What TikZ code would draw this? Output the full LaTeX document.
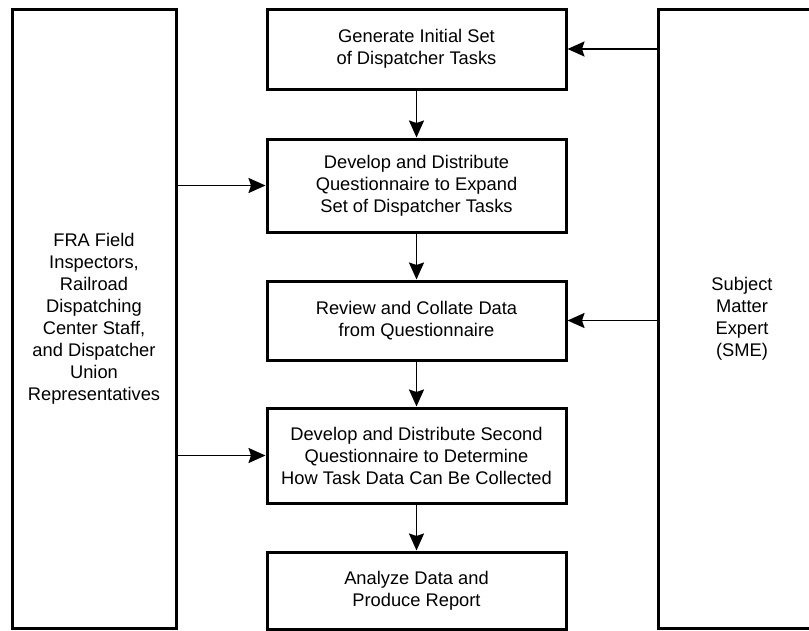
\documentclass[tikz,border=0pt]{standalone}
\usepackage{fontspec}
\setmainfont{Liberation Sans}
\usetikzlibrary{arrows.meta}

\begin{document}
\begin{tikzpicture}[x=1pt,y=-1pt,
    box/.style={draw,line width=3pt,align=center,inner sep=0pt,
      font=\fontsize{18.3}{22}\selectfont},
    task/.style={box,minimum width=299pt},
    arr/.style={-{Stealth[length=17pt,width=15pt,inset=2.5pt]},line width=1.9pt}]
      \clip (0,0) rectangle (809,630);

      \node[box,minimum width=164pt,minimum height=619pt] (fra) at (94,318.5)
        {FRA Field\\Inspectors,\\Railroad\\Dispatching\\Center Staff,\\and Dispatcher\\Union\\Representatives};
      \node[box,minimum width=168pt,minimum height=619pt] (sme) at (742,318.5)
        {Subject\\Matter\\Expert\\(SME)};

      \node[task,minimum height=80pt] (gen) at (416.5,49)
        {Generate Initial Set\\of Dispatcher Tasks};
      \node[task,minimum height=93pt] (quest) at (416.5,185.5)
        {Develop and Distribute\\Questionnaire to Expand\\Set of Dispatcher Tasks};
      \node[task,minimum height=79pt] (review) at (416.5,320.5)
        {Review and Collate Data\\from Questionnaire};
      \node[task,minimum height=95pt] (second) at (416.5,455.5)
        {Develop and Distribute Second\\Questionnaire to Determine\\How Task Data Can Be Collected};
      \node[task,minimum height=77pt] (report) at (416.5,590.5)
        {Analyze Data and\\Produce Report};

      \draw[arr] (gen) -- (quest);
      \draw[arr] (quest) -- (review);
      \draw[arr] (review) -- (second);
      \draw[arr] (second) -- (report);

      \draw[arr] (fra.east |- quest.west) -- (quest.west);
      \draw[arr] (fra.east |- second.west) -- (second.west);
      \draw[arr] (sme.west |- gen.east) -- (gen.east);
      \draw[arr] (sme.west |- review.east) -- (review.east);
    \end{tikzpicture}
\end{document}
